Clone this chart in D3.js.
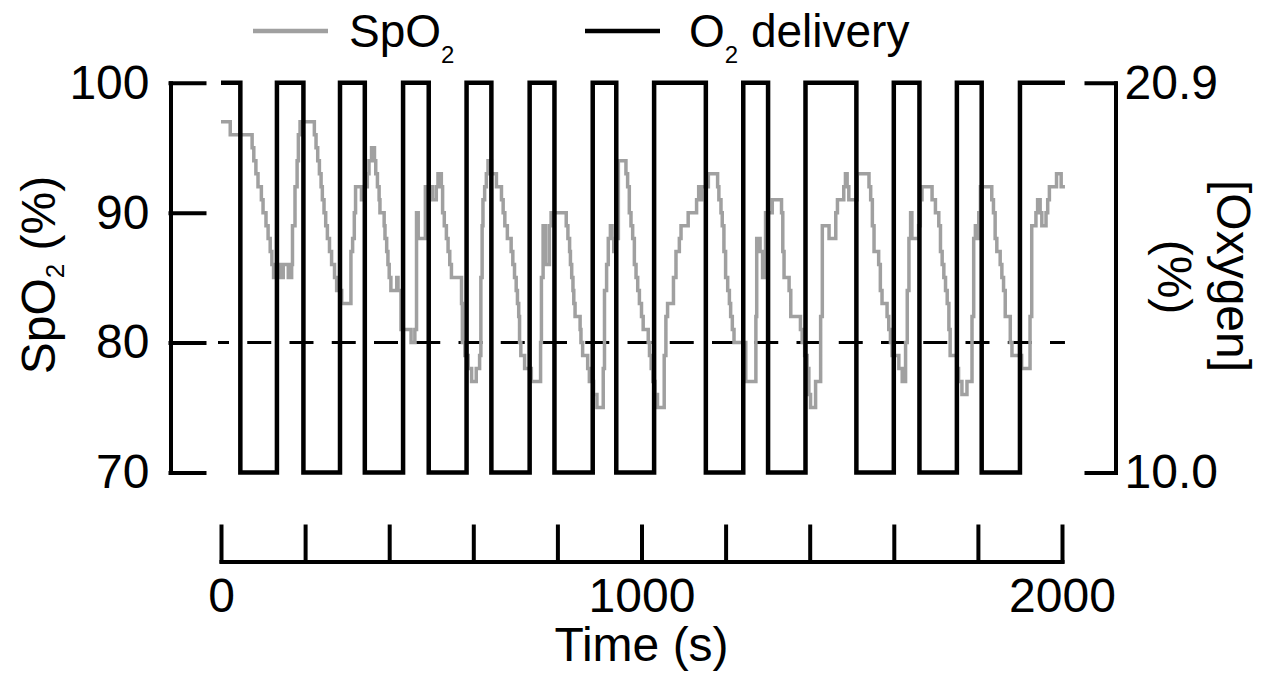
<!DOCTYPE html>
<html>
<head>
<meta charset="utf-8">
<script src="https://cdn.jsdelivr.net/npm/d3@7"></script>
<style>
  body { margin: 0; background: #fff; }
  svg text { font-family: "Liberation Sans", Arial, sans-serif; fill: #000; }
</style>
</head>
<body>
<div id="content"></div>
<script>
// O2 delivery: level switches at these times (s), last entry closes the trace
var o2Times = [0, 46, 133, 196, 283, 342, 433, 494, 584, 643, 734, 793, 884, 940,
    1030, 1153, 1242, 1301, 1390, 1511, 1600, 1661, 1750, 1809, 1900, 2007];
var o2Levels = [20.9, 10.0, 20.9, 10.0, 20.9, 10.0, 20.9, 10.0, 20.9, 10.0, 20.9, 10.0, 20.9, 10.0,
    20.9, 10.0, 20.9, 10.0, 20.9, 10.0, 20.9, 10.0, 20.9, 10.0, 20.9, 20.9];

// SpO2 readings (step changes)
var spo2Times = [0, 22, 74, 78, 83, 88, 96, 100, 107, 112, 117, 121, 125, 137, 144, 148, 160, 168, 170, 176,
    181, 184, 188, 222, 226, 230, 234, 238, 241, 245, 249, 253, 258, 263, 270, 275, 287, 309, 313, 317,
    320, 334, 340, 348, 352, 358, 365, 368, 372, 376, 378, 388, 390, 394, 397, 400, 404, 418, 421, 428,
    452, 461, 465, 469, 486, 503, 512, 516,
    524, 527, 531, 536, 540, 544, 548, 572, 574, 580, 588, 596, 607, 615, 618, 621, 623, 627, 631, 635,
    643, 655, 667, 671, 675, 681, 690, 694, 698, 702, 705, 708, 710, 713, 722, 738, 760, 762, 766, 772,
    781, 785, 821, 825, 829, 831, 834, 837, 839, 842, 854, 856, 860, 872, 876, 886, 894, 909, 912, 917,
    921, 926, 930, 934, 940, 945, 963, 967, 971, 975, 979, 983, 987, 991, 995, 1000, 1004, 1016, 1019, 1023,
    1027, 1032, 1038, 1054, 1058, 1062, 1076, 1082, 1090, 1094, 1111, 1131, 1136, 1140, 1143, 1159,
    1181, 1184, 1189, 1192, 1196, 1200, 1205, 1209, 1212, 1216, 1220, 1248, 1272, 1274, 1282, 1288, 1295, 1311,
    1333, 1336, 1339, 1351, 1355, 1378, 1382, 1388, 1394, 1398, 1402, 1414, 1426, 1430, 1446, 1462, 1466, 1481,
    1485, 1489, 1493, 1513, 1541, 1545, 1549, 1553, 1564, 1568, 1572, 1584, 1588, 1592, 1596, 1612, 1620, 1628,
    1632, 1636, 1640, 1643, 1659, 1663, 1667, 1691, 1699, 1707, 1711, 1715, 1719, 1723, 1727, 1731, 1734, 1750,
    1754, 1762, 1774, 1786, 1790, 1794, 1798, 1802, 1806, 1833, 1837, 1841, 1845, 1853, 1857, 1861, 1865, 1877,
    1881, 1904, 1924, 1928, 1938, 1942, 1948, 1952, 1962, 1966, 1970, 1987, 1998, 2007];
var spo2Values = [97, 96, 95, 94, 93, 92, 91, 90, 89, 88, 87, 86, 85, 86, 85, 86, 85, 86, 89, 92,
    94, 96, 97, 96, 95, 94, 93, 92, 91, 90, 89, 88, 87, 86, 85, 84, 83, 87, 88, 90,
    92, 91, 92, 93, 94, 95, 94, 93, 92, 91, 90, 89, 88, 87, 86, 85, 84, 85, 84, 81,
    80, 81, 90, 88, 92, 91, 92, 93,
    92, 90, 89, 88, 87, 86, 85, 83, 80, 79, 78, 77, 78, 79, 85, 89, 91, 92, 93, 94,
    93, 92, 91, 90, 89, 88, 87, 86, 85, 84, 83, 82, 80, 79, 78, 77, 80, 85, 89, 86,
    89, 90, 89, 88, 87, 86, 85, 84, 83, 82, 81, 80, 79, 78, 77, 76, 75, 78, 84, 86,
    88, 89, 88, 87, 88, 94, 93, 92, 90, 89, 88, 86, 85, 84, 83, 82, 81, 80, 79, 78,
    77, 76, 75, 79, 82, 83, 85, 87, 88, 89, 90, 91, 92, 91, 92, 93,
    92, 91, 90, 89, 87, 85, 84, 83, 82, 81, 80, 77, 82, 88, 87, 85, 90, 91,
    90, 87, 85, 84, 82, 81, 80, 79, 78, 76, 75, 77, 82, 89, 88, 90, 91, 92,
    93, 92, 91, 93, 92, 91, 89, 87, 86, 84, 83, 82, 81, 80, 79, 78, 77, 80,
    84, 88, 90, 88, 89, 91, 92, 91, 90, 89, 87, 86, 85, 84, 83, 81, 79, 78,
    77, 76, 77, 82, 88, 89, 88, 90, 92, 91, 90, 88, 87, 86, 85, 84, 82, 80,
    79, 78, 82, 89, 90, 91, 90, 89, 90, 91, 92, 93, 92, 92];

var timeTicks = [0, 200, 400, 600, 800, 1000, 1200, 1400, 1600, 1800, 2000];
var timeLabels = [0, 1000, 2000];
var spo2Ticks = [70, 80, 90, 100];
var o2Ticks = [10.0, 20.9];
var hypoxiaLine = 80;

var svg = d3.select('#content').append('svg')
    .attr('width', 1273)
    .attr('height', 677);

var x = d3.scaleLinear().domain([0, 2000]).range([221, 1062]);
var y = d3.scaleLinear().domain([70, 100]).range([472.5, 82.7]);
var yO2 = d3.scaleLinear().domain([10, 20.9]).range([472.5, 82.7]);

function styleAxis(g) {
    g.attr('font-family', '"Liberation Sans", Arial, sans-serif')
        .attr('font-size', 48);
    g.selectAll('path, line')
        .attr('stroke', '#000')
        .attr('stroke-width', 4)
        .attr('stroke-linecap', 'square');
    g.selectAll('text').attr('fill', '#000');
}

// Left axis, ticks point inward
svg.append('g')
    .attr('transform', 'translate(170.5,0)')
    .call(d3.axisLeft(y).tickValues(spo2Ticks).tickSize(-34).tickSizeOuter(0).tickPadding(21))
    .call(styleAxis);

// Right axis
svg.append('g')
    .attr('transform', 'translate(1115.5,0)')
    .call(d3.axisRight(yO2).tickValues(o2Ticks).tickSize(-29).tickSizeOuter(0).tickPadding(9)
        .tickFormat(d3.format('.1f')))
    .call(styleAxis);

// Time axis, ticks point up
svg.append('g')
    .attr('transform', 'translate(0,561.5)')
    .call(d3.axisBottom(x).tickValues(timeTicks).tickSize(-35).tickSizeOuter(0).tickPadding(16)
        .tickFormat(function(d) { return timeLabels.indexOf(d) >= 0 ? d : ''; }))
    .call(styleAxis);

// 80 % reference
svg.append('line')
    .attr('x1', x(o2Times[0]) - 3)
    .attr('x2', x(o2Times[o2Times.length - 1]))
    .attr('y1', y(hypoxiaLine))
    .attr('y2', y(hypoxiaLine))
    .attr('stroke', '#000')
    .attr('stroke-width', 3)
    .attr('stroke-dasharray', '24 18.25')
    .attr('stroke-dashoffset', 13);

var spo2Line = d3.line()
    .x(function(d) { return x(d[0]); })
    .y(function(d) { return y(d[1]); })
    .curve(d3.curveStepAfter);

svg.append('path')
    .datum(d3.zip(spo2Times, spo2Values))
    .attr('d', spo2Line)
    .attr('fill', 'none')
    .attr('stroke', '#a0a0a0')
    .attr('stroke-width', 3.5);

var o2Line = d3.line()
    .x(function(d) { return x(d[0]); })
    .y(function(d) { return yO2(d[1]); })
    .curve(d3.curveStepAfter);

svg.append('path')
    .datum(d3.zip(o2Times, o2Levels))
    .attr('d', o2Line)
    .attr('fill', 'none')
    .attr('stroke', '#000')
    .attr('stroke-width', 4.5)
    .attr('stroke-linejoin', 'miter');

// Axis titles
var leftTitle = svg.append('text')
    .attr('transform', 'translate(55,275) rotate(-90)')
    .attr('text-anchor', 'middle')
    .attr('font-size', 48);
leftTitle.append('tspan').text('SpO');
leftTitle.append('tspan').attr('font-size', 26).attr('dy', 9).text('2');
leftTitle.append('tspan').attr('dy', -9).text(' (%)');

svg.append('text')
    .attr('transform', 'translate(1217,276) rotate(90)')
    .attr('text-anchor', 'middle')
    .attr('font-size', 48)
    .text('[Oxygen]');

svg.append('text')
    .attr('transform', 'translate(1158,277) rotate(90)')
    .attr('text-anchor', 'middle')
    .attr('font-size', 48)
    .text('(%)');

svg.append('text')
    .attr('x', x(1000))
    .attr('y', 661)
    .attr('text-anchor', 'middle')
    .attr('font-size', 48)
    .text('Time (s)');

// Legend
var legend = svg.append('g');
legend.append('line')
    .attr('x1', 253).attr('x2', 328).attr('y1', 31).attr('y2', 31)
    .attr('stroke', '#a0a0a0').attr('stroke-width', 4.5);
var l1 = legend.append('text').attr('x', 349).attr('y', 47).attr('font-size', 46);
l1.append('tspan').text('SpO');
l1.append('tspan').attr('font-size', 24).attr('dy', 16).text('2');

legend.append('line')
    .attr('x1', 585).attr('x2', 660).attr('y1', 31).attr('y2', 31)
    .attr('stroke', '#000').attr('stroke-width', 4.5);
var l2 = legend.append('text').attr('x', 689).attr('y', 47).attr('font-size', 46);
l2.append('tspan').text('O');
l2.append('tspan').attr('font-size', 24).attr('dy', 16).text('2');
l2.append('tspan').attr('dy', -16).text(' delivery');
</script>
</body>
</html>
